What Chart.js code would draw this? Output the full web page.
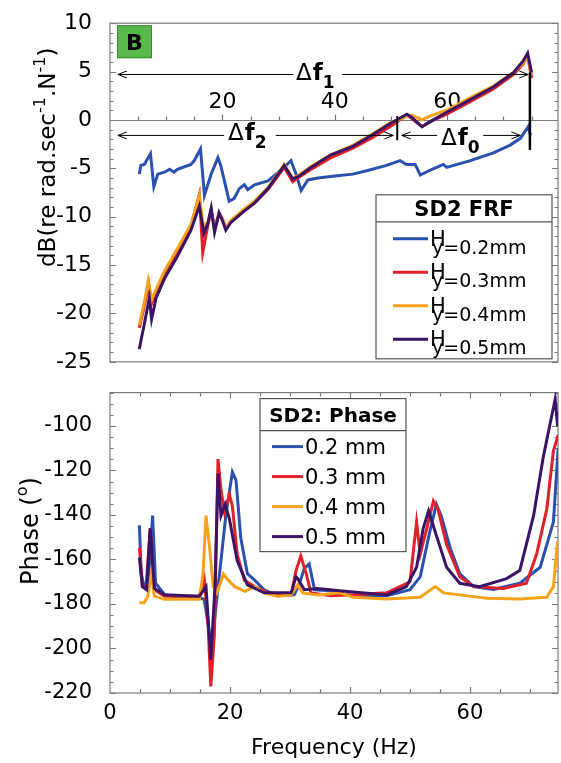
<!DOCTYPE html>
<html>
<head>
<meta charset="utf-8">
<script src="https://cdn.jsdelivr.net/npm/chart.js@4.4.1/dist/chart.umd.min.js"></script>
<style>
  html, body { margin: 0; padding: 0; background: #fff; }
  #wrap { position: relative; width: 561px; height: 763px; overflow: hidden; }
  #frf { position: absolute; left: 0; top: 0; }
  #phase { position: absolute; left: 0; top: 370px; }
</style>
</head>
<body>
<div id="wrap">
  <canvas id="frf" width="561" height="385"></canvas>
  <canvas id="phase" width="561" height="393"></canvas>
</div>
<script>
// ---- data ----

// upper panel: FRF magnitude, dB
const frfLabels = ['y=0.2mm', 'y=0.3mm', 'y=0.4mm', 'y=0.5mm'];
const frfTickLabels = [20, 40, 60];

const frf02F = [5.2, 5.5, 6.1, 7.2, 7.8, 8.5, 9.7, 10.6, 11.4, 12.0, 14.4, 15.0, 16.1, 16.8, 18.0, 19.2, 19.7, 21.2, 22.1, 23.0, 23.9, 24.5, 25.7, 28.1, 30.4, 32.2, 33.1, 34.0, 35.2, 37.0, 40.0, 43.2, 46.0, 49.2, 51.6, 52.7, 54.3, 55.2, 56.9, 59.3, 59.9, 64.1, 68.2, 71.2, 73.0, 74.4, 74.8];
const frf02 = [-5.6, -4.7, -4.6, -3.5, -6.9, -5.6, -5.4, -5.1, -5.4, -5.1, -4.6, -4.2, -3.0, -7.8, -5.6, -3.9, -4.7, -8.4, -8.1, -7.1, -6.7, -7.2, -6.7, -6.3, -5.2, -4.2, -5.6, -7.3, -6.2, -6.0, -5.8, -5.6, -5.2, -4.7, -4.2, -4.6, -4.6, -5.7, -5.2, -4.6, -4.9, -4.2, -3.4, -2.6, -1.9, -0.7, -1.6];

const frf03F = [5.2, 6.0, 6.9, 7.4, 8.2, 9.7, 12.0, 14.4, 15.9, 16.5, 17.4, 18.0, 18.6, 19.4, 20.0, 20.6, 21.5, 23.9, 25.7, 28.1, 31.0, 32.5, 33.4, 35.8, 39.3, 43.3, 46.5, 49.8, 51.3, 52.8, 53.6, 55.5, 56.9, 59.9, 64.1, 68.2, 71.8, 73.5, 74.3, 75.0];
const frf03 = [-21.5, -19.5, -17.0, -19.0, -17.8, -15.9, -13.6, -11.0, -7.7, -13.7, -10.9, -9.3, -11.2, -9.7, -10.2, -11.2, -10.5, -9.4, -8.6, -7.2, -4.9, -6.4, -6.0, -5.1, -3.9, -2.9, -1.9, -0.7, -0.1, 0.5, 0.2, -0.7, -0.2, 0.6, 1.9, 3.2, 4.7, 5.8, 6.6, 4.3];

const frf04F = [5.2, 6.0, 6.8, 7.4, 8.2, 9.7, 12.0, 14.4, 15.9, 16.6, 17.4, 18.0, 18.6, 19.4, 20.0, 20.6, 21.5, 23.9, 25.7, 28.1, 31.0, 32.5, 33.4, 35.8, 39.3, 43.3, 46.5, 49.8, 51.3, 52.8, 53.6, 55.5, 56.9, 59.9, 64.1, 68.2, 71.8, 73.5, 74.3, 75.0];
const frf04 = [-21.2, -19.2, -16.6, -18.6, -17.5, -15.6, -13.3, -10.8, -7.8, -11.0, -10.6, -9.3, -11.3, -9.6, -10.2, -11.2, -10.4, -9.2, -8.4, -7.0, -4.6, -6.0, -5.8, -4.8, -3.6, -2.6, -1.5, -0.3, 0.0, 0.4, 0.5, 0.0, 0.4, 1.0, 2.3, 3.5, 4.9, 5.9, 6.5, 4.8];

const frf05F = [5.2, 6.0, 7.0, 7.4, 8.2, 9.7, 12.0, 14.4, 15.9, 16.7, 17.4, 18.0, 18.6, 19.4, 20.0, 20.6, 21.5, 23.9, 25.7, 28.1, 31.0, 32.5, 33.4, 35.8, 39.3, 43.3, 46.5, 49.8, 51.3, 52.8, 53.6, 55.5, 56.9, 59.9, 64.1, 68.2, 71.8, 73.5, 74.3, 75.0];
const frf05 = [-23.7, -21.4, -18.4, -20.6, -18.4, -16.4, -14.1, -11.4, -8.9, -11.7, -10.7, -9.1, -11.6, -9.6, -10.4, -11.4, -10.6, -9.4, -8.6, -7.1, -4.7, -6.1, -5.9, -4.9, -3.6, -2.7, -1.6, -0.4, 0.1, 0.6, 0.3, -0.7, -0.2, 0.8, 2.1, 3.4, 4.9, 6.1, 6.9, 4.9];

// lower panel: phase, degrees
const phaseLabels = ['0.2 mm', '0.3 mm', '0.4 mm', '0.5 mm'];

const ph02F = [4.9, 5.2, 5.7, 6.3, 7.1, 7.6, 9.1, 11.3, 14.9, 15.7, 16.3, 16.8, 17.4, 17.9, 18.5, 19.3, 20.4, 21.0, 21.8, 22.9, 24.1, 25.7, 27.9, 30.7, 31.5, 32.4, 33.2, 34.1, 36.8, 40.6, 46.1, 50.0, 51.7, 53.3, 54.4, 55.2, 56.7, 58.3, 60.6, 63.9, 68.3, 71.7, 73.9, 74.7];
const ph02 = [-144.6, -166.4, -172.2, -173.6, -140.3, -170.7, -175.8, -177, -177, -178, -188, -198, -188, -175, -160.4, -140.3, -120.7, -124.3, -150.4, -166.4, -169.3, -173.6, -176.3, -175.9, -171.4, -164, -162, -173.6, -174, -176.5, -176.3, -173.6, -167.8, -147.5, -135.2, -140.3, -154.8, -166.4, -172.2, -173.5, -170.7, -163.5, -143.2, -110];

const ph03F = [4.9, 5.4, 6.0, 6.7, 7.4, 9.1, 14.9, 15.7, 16.3, 16.8, 17.4, 18.0, 18.5, 19.1, 19.9, 20.4, 21.2, 22.4, 24.1, 26.3, 30.2, 31.0, 31.8, 32.7, 33.5, 36.8, 40.6, 46.1, 50.0, 51.1, 51.7, 52.8, 53.9, 54.7, 56.1, 58.3, 60.6, 65.6, 69.4, 71.1, 72.8, 73.9, 74.7];
const ph03 = [-154.8, -172.2, -173, -146, -173.6, -176.5, -176.5, -168.6, -186.7, -217, -193.9, -114.9, -128.7, -138.8, -130.9, -136, -157.7, -169.3, -172.2, -175, -175.9, -165, -158.4, -166.4, -175, -176.3, -175.9, -175, -170, -143.2, -157.7, -146, -133.8, -137.7, -153.3, -167.8, -172.2, -173, -170.7, -157.7, -137.4, -111.3, -104];

const ph04F = [4.9, 5.7, 6.3, 6.9, 7.4, 9.1, 14.9, 15.5, 16.0, 16.6, 17.2, 17.8, 18.4, 18.9, 19.7, 20.8, 22.5, 24.1, 25.7, 27.9, 30.2, 31.3, 32.1, 34.6, 38.3, 40.6, 46.1, 51.7, 54.2, 55.6, 58.3, 62.8, 68.3, 72.8, 73.9, 74.6];
const ph04 = [-179.4, -179.4, -176.5, -166.4, -176.5, -177.9, -177.9, -166.4, -140.3, -154.8, -172.2, -175, -170.7, -166.4, -169.3, -172.2, -174.3, -172.2, -175, -176.5, -175.9, -171.4, -175, -175.9, -175, -177, -177.8, -177, -172.2, -175, -175.9, -177.4, -177.8, -177, -172.2, -151.9];

const ph05F = [4.9, 5.4, 6.1, 6.7, 7.4, 9.1, 14.9, 16.0, 16.8, 17.5, 18.0, 18.5, 19.2, 19.9, 21.2, 22.9, 25.7, 30.2, 31.0, 31.3, 32.4, 34.6, 38.3, 46.1, 49.4, 51.1, 52.2, 53.1, 54.2, 56.1, 58.3, 61.6, 66.1, 68.3, 70.6, 72.2, 73.3, 74.2, 74.6];
const ph05 = [-159.1, -172.2, -173.6, -146, -173, -175.9, -176.5, -172.2, -205, -172, -121.4, -140.3, -135.2, -141.7, -160.6, -171.4, -175, -175, -167.8, -168.6, -173.6, -173, -174, -175.9, -172.2, -163.5, -146, -138.1, -147.5, -163.5, -170.7, -172.2, -168.6, -165, -140.3, -114.2, -99.7, -88, -100];

// annotations of the upper panel, in data units (Hz, dB)
const arrowDf1 = { from: 1.4, to: 74.4, level: 4.7, gap: [32.6, 41.3] };
const arrowDf2 = { from: 1.4, to: 50.4, level: -1.6, gap: [20.3, 29.5] };
const arrowDf0 = { from: 51.9, to: 73.0, level: -1.6, gap: [58.2, 66.4] };
const labelDf1 = { f: 33.1, db: 4.1, sub: '1' };
const labelDf2 = { f: 21.0, db: -2.1, sub: '2' };
const labelDf0 = { f: 58.9, db: -2.6, sub: '0' };
const markLong = { f: 74.7, top: 4.9, bottom: -3.1 };
const markShort = { f: 51.1, top: 0.4, bottom: -2.1 };

const colors = ['#2b50b0', '#e0202a', '#f8a21c', '#3c1466'];
const FONT = '"DejaVu Sans", sans-serif';

Chart.defaults.font.family = FONT;
Chart.defaults.color = '#000';

function pts(fs, vs) {
  return fs.map((f, i) => ({ x: f, y: vs[i] }));
}

function series(fs, vs, i) {
  return {
    data: pts(fs, vs),
    borderColor: colors[i],
    borderWidth: 3,
    pointRadius: 0,
    tension: 0,
    fill: false,
    order: 4 - i
  };
}

// draws a row of text runs (for super/subscripts)
function drawRuns(ctx, runs, x, y) {
  for (const r of runs) {
    ctx.font = (r.bold ? 'bold ' : '') + r.size + 'px ' + FONT;
    x += r.dx || 0;
    ctx.fillText(r.t, x, y + (r.dy || 0));
    x += ctx.measureText(r.t).width;
  }
  return x;
}

// box around the plot with inward ticks
function drawBox(chart, yStep, yMajor, xStep) {
  const { ctx, chartArea: a, scales: { x, y } } = chart;
  ctx.save();
  ctx.strokeStyle = '#7a7a7a';
  ctx.lineWidth = 1.2;
  ctx.strokeRect(a.left, a.top, a.right - a.left, a.bottom - a.top);
  ctx.beginPath();
  for (let v = Math.ceil(y.min / yStep) * yStep; v <= y.max + 1e-6; v += yStep) {
    const py = Math.round(y.getPixelForValue(v)) + 0.5;
    const len = Math.abs(v / yMajor - Math.round(v / yMajor)) < 1e-6 ? 6 : 3.5;
    ctx.moveTo(a.left, py); ctx.lineTo(a.left + len, py);
    ctx.moveTo(a.right, py); ctx.lineTo(a.right - len, py);
  }
  if (xStep) {
    for (let v = xStep; v < x.max; v += xStep) {
      const px = Math.round(x.getPixelForValue(v)) + 0.5;
      const len = v % 20 === 0 ? 6 : 4;
      ctx.moveTo(px, a.top); ctx.lineTo(px, a.top + len);
      ctx.moveTo(px, a.bottom); ctx.lineTo(px, a.bottom - len);
    }
  }
  ctx.stroke();
  ctx.restore();
}

function arrowHead(ctx, x, y, dir) {
  ctx.moveTo(x + dir * 9, y - 3.5);
  ctx.lineTo(x, y);
  ctx.lineTo(x + dir * 9, y + 3.5);
}

function drawArrow(ctx, x, y, ar) {
  const py = y.getPixelForValue(ar.level);
  const x1 = x.getPixelForValue(ar.from), x2 = x.getPixelForValue(ar.to);
  const g1 = x.getPixelForValue(ar.gap[0]), g2 = x.getPixelForValue(ar.gap[1]);
  ctx.beginPath();
  ctx.moveTo(x1, py); ctx.lineTo(g1, py);
  ctx.moveTo(g2, py); ctx.lineTo(x2, py);
  arrowHead(ctx, x1, py, 1);
  arrowHead(ctx, x2, py, -1);
  ctx.stroke();
}

function drawDelta(ctx, x, y, lb) {
  drawRuns(ctx, [
    { t: '\u0394', size: 23 },
    { t: 'f', size: 23, bold: true, dx: 1 },
    { t: lb.sub, size: 17, bold: true, dy: 8 }
  ], x.getPixelForValue(lb.f), y.getPixelForValue(lb.db));
}

const frfDecor = {
  id: 'frfDecor',
  beforeDatasetsDraw(chart) {
    const { ctx, chartArea: a, scales: { x, y } } = chart;
    drawBox(chart, 1, 5, 0);
    // x axis on the 0 dB line
    const py = Math.round(y.getPixelForValue(0)) + 0.5;
    ctx.save();
    ctx.strokeStyle = '#7a7a7a';
    ctx.lineWidth = 1.2;
    ctx.beginPath();
    ctx.moveTo(a.left, py); ctx.lineTo(a.right, py);
    for (let v = 5; v < x.max; v += 5) {
      const px = Math.round(x.getPixelForValue(v)) + 0.5;
      ctx.moveTo(px, py); ctx.lineTo(px, py - (v % 20 === 0 ? 6 : 4));
    }
    ctx.stroke();
    ctx.fillStyle = '#000';
    ctx.font = '22px ' + FONT;
    ctx.textAlign = 'center';
    ctx.textBaseline = 'middle';
    for (const t of frfTickLabels) {
      ctx.fillText(String(t), x.getPixelForValue(t), py - 18);
    }
    ctx.restore();
  },
  afterDatasetsDraw(chart) {
    const { ctx, chartArea: a, scales: { x, y } } = chart;
    ctx.save();
    // badge
    ctx.fillStyle = '#58b84a';
    ctx.strokeStyle = '#3d8a33';
    ctx.lineWidth = 1;
    ctx.fillRect(a.left + 7, a.top + 2, 35, 33);
    ctx.strokeRect(a.left + 7.5, a.top + 2.5, 34, 32);
    ctx.fillStyle = '#000';
    ctx.font = 'bold 22px ' + FONT;
    ctx.textAlign = 'center';
    ctx.textBaseline = 'alphabetic';
    ctx.fillText('B', a.left + 24.5, a.top + 27);

    // arrows and markers
    ctx.strokeStyle = '#000';
    ctx.lineWidth = 1;
    drawArrow(ctx, x, y, arrowDf1);
    drawArrow(ctx, x, y, arrowDf2);
    drawArrow(ctx, x, y, arrowDf0);
    ctx.lineWidth = 2.5;
    ctx.beginPath();
    ctx.moveTo(x.getPixelForValue(markLong.f), y.getPixelForValue(markLong.top));
    ctx.lineTo(x.getPixelForValue(markLong.f), y.getPixelForValue(markLong.bottom));
    ctx.stroke();
    ctx.lineWidth = 2;
    ctx.beginPath();
    ctx.moveTo(x.getPixelForValue(markShort.f), y.getPixelForValue(markShort.top));
    ctx.lineTo(x.getPixelForValue(markShort.f), y.getPixelForValue(markShort.bottom));
    ctx.stroke();
    ctx.textAlign = 'left';
    drawDelta(ctx, x, y, labelDf1);
    drawDelta(ctx, x, y, labelDf2);
    drawDelta(ctx, x, y, labelDf0);

    // legend box
    const bx = a.right - 182, by = a.bottom - 167, bw = 176, bh = 164;
    ctx.fillStyle = '#fff';
    ctx.fillRect(bx, by, bw, bh);
    ctx.strokeStyle = '#555';
    ctx.lineWidth = 1.2;
    ctx.strokeRect(bx, by, bw, bh);
    ctx.beginPath();
    ctx.moveTo(bx, by + 27); ctx.lineTo(bx + bw, by + 27);
    ctx.stroke();
    ctx.fillStyle = '#000';
    ctx.font = 'bold 21px ' + FONT;
    ctx.textAlign = 'center';
    ctx.fillText('SD2 FRF', bx + bw / 2, by + 21);
    ctx.textAlign = 'left';
    frfLabels.forEach((lab, i) => {
      const ly = by + 44 + 33.5 * i;
      ctx.strokeStyle = colors[i];
      ctx.lineWidth = 3;
      ctx.beginPath();
      ctx.moveTo(bx + 17, ly); ctx.lineTo(bx + 52, ly);
      ctx.stroke();
      ctx.font = '21px ' + FONT;
      ctx.fillText('H', bx + 54, by + 51 + 33.4 * i);
      ctx.font = '19px ' + FONT;
      ctx.fillText(lab, bx + 56, by + 59 + 33.4 * i);
    });

    // y axis title
    ctx.translate(55, 267);
    ctx.rotate(-Math.PI / 2);
    drawRuns(ctx, [
      { t: 'dB(re rad.sec', size: 23 },
      { t: '-1', size: 16, dy: -10 },
      { t: '.N', size: 23 },
      { t: '-1', size: 16, dy: -10 },
      { t: ')', size: 23 }
    ], 0, 0);
    ctx.restore();
  }
};

const phaseDecor = {
  id: 'phaseDecor',
  beforeDatasetsDraw(chart) {
    drawBox(chart, 5, 20, 5);
  },
  afterDatasetsDraw(chart) {
    const { ctx, chartArea: a } = chart;
    ctx.save();
    const bx = a.left + 150, by = a.top + 6, bw = 146, bh = 153;
    ctx.fillStyle = '#fff';
    ctx.fillRect(bx, by, bw, bh);
    ctx.strokeStyle = '#555';
    ctx.lineWidth = 1.2;
    ctx.strokeRect(bx, by, bw, bh);
    ctx.beginPath();
    ctx.moveTo(bx, by + 32); ctx.lineTo(bx + bw, by + 32);
    ctx.stroke();
    ctx.fillStyle = '#000';
    ctx.font = 'bold 20px ' + FONT;
    ctx.textAlign = 'center';
    ctx.fillText('SD2: Phase', bx + bw / 2, by + 23);
    ctx.textAlign = 'left';
    phaseLabels.forEach((lab, i) => {
      const ly = by + 48 + 30 * i;
      ctx.strokeStyle = colors[i];
      ctx.lineWidth = 3;
      ctx.beginPath();
      ctx.moveTo(bx + 12, ly); ctx.lineTo(bx + 43, ly);
      ctx.stroke();
      ctx.font = '21px ' + FONT;
      ctx.fillText(lab, bx + 45, by + 55 + 30 * i);
    });

    ctx.translate(38, 215);
    ctx.rotate(-Math.PI / 2);
    drawRuns(ctx, [
      { t: 'Phase (', size: 24 },
      { t: 'o', size: 16, dy: -11 },
      { t: ')', size: 24 }
    ], 0, 0);
    ctx.restore();
  }
};

new Chart(document.getElementById('frf'), {
  type: 'line',
  data: {
    datasets: [
      series(frf02F, frf02, 0),
      series(frf03F, frf03, 1),
      series(frf04F, frf04, 2),
      series(frf05F, frf05, 3)
    ]
  },
  options: {
    responsive: false,
    animation: false,
    layout: { padding: { top: 16, bottom: 19, right: 3, left: 0 } },
    scales: {
      x: { type: 'linear', min: 0, max: 79.7, display: false },
      y: {
        min: -25, max: 10,
        ticks: { stepSize: 5, padding: 10, font: { size: 22 } },
        grid: { display: false },
        border: { display: false },
        afterFit(s) { s.width = 110; }
      }
    },
    plugins: { legend: { display: false }, tooltip: { enabled: false } }
  },
  plugins: [frfDecor]
});

new Chart(document.getElementById('phase'), {
  type: 'line',
  data: {
    datasets: [
      series(ph02F, ph02, 0),
      series(ph03F, ph03, 1),
      series(ph04F, ph04, 2),
      series(ph05F, ph05, 3)
    ]
  },
  options: {
    responsive: false,
    animation: false,
    layout: { padding: { top: 14, bottom: 0, right: 3, left: 0 } },
    scales: {
      x: {
        type: 'linear', min: 0, max: 74.67,
        ticks: { stepSize: 20, includeBounds: false, autoSkip: false, maxRotation: 0, padding: 0, font: { size: 21 } },
        grid: { display: false },
        border: { display: false },
        title: { display: true, text: 'Frequency (Hz)', font: { size: 22 }, padding: { top: 0, bottom: 2 } },
        afterFit(s) { s.height = 70; }
      },
      y: {
        min: -220, max: -85,
        ticks: { stepSize: 20, includeBounds: false, padding: 10, font: { size: 21 } },
        grid: { display: false },
        border: { display: false },
        afterFit(s) { s.width = 110; }
      }
    },
    plugins: { legend: { display: false }, tooltip: { enabled: false } }
  },
  plugins: [phaseDecor]
});
</script>
</body>
</html>
